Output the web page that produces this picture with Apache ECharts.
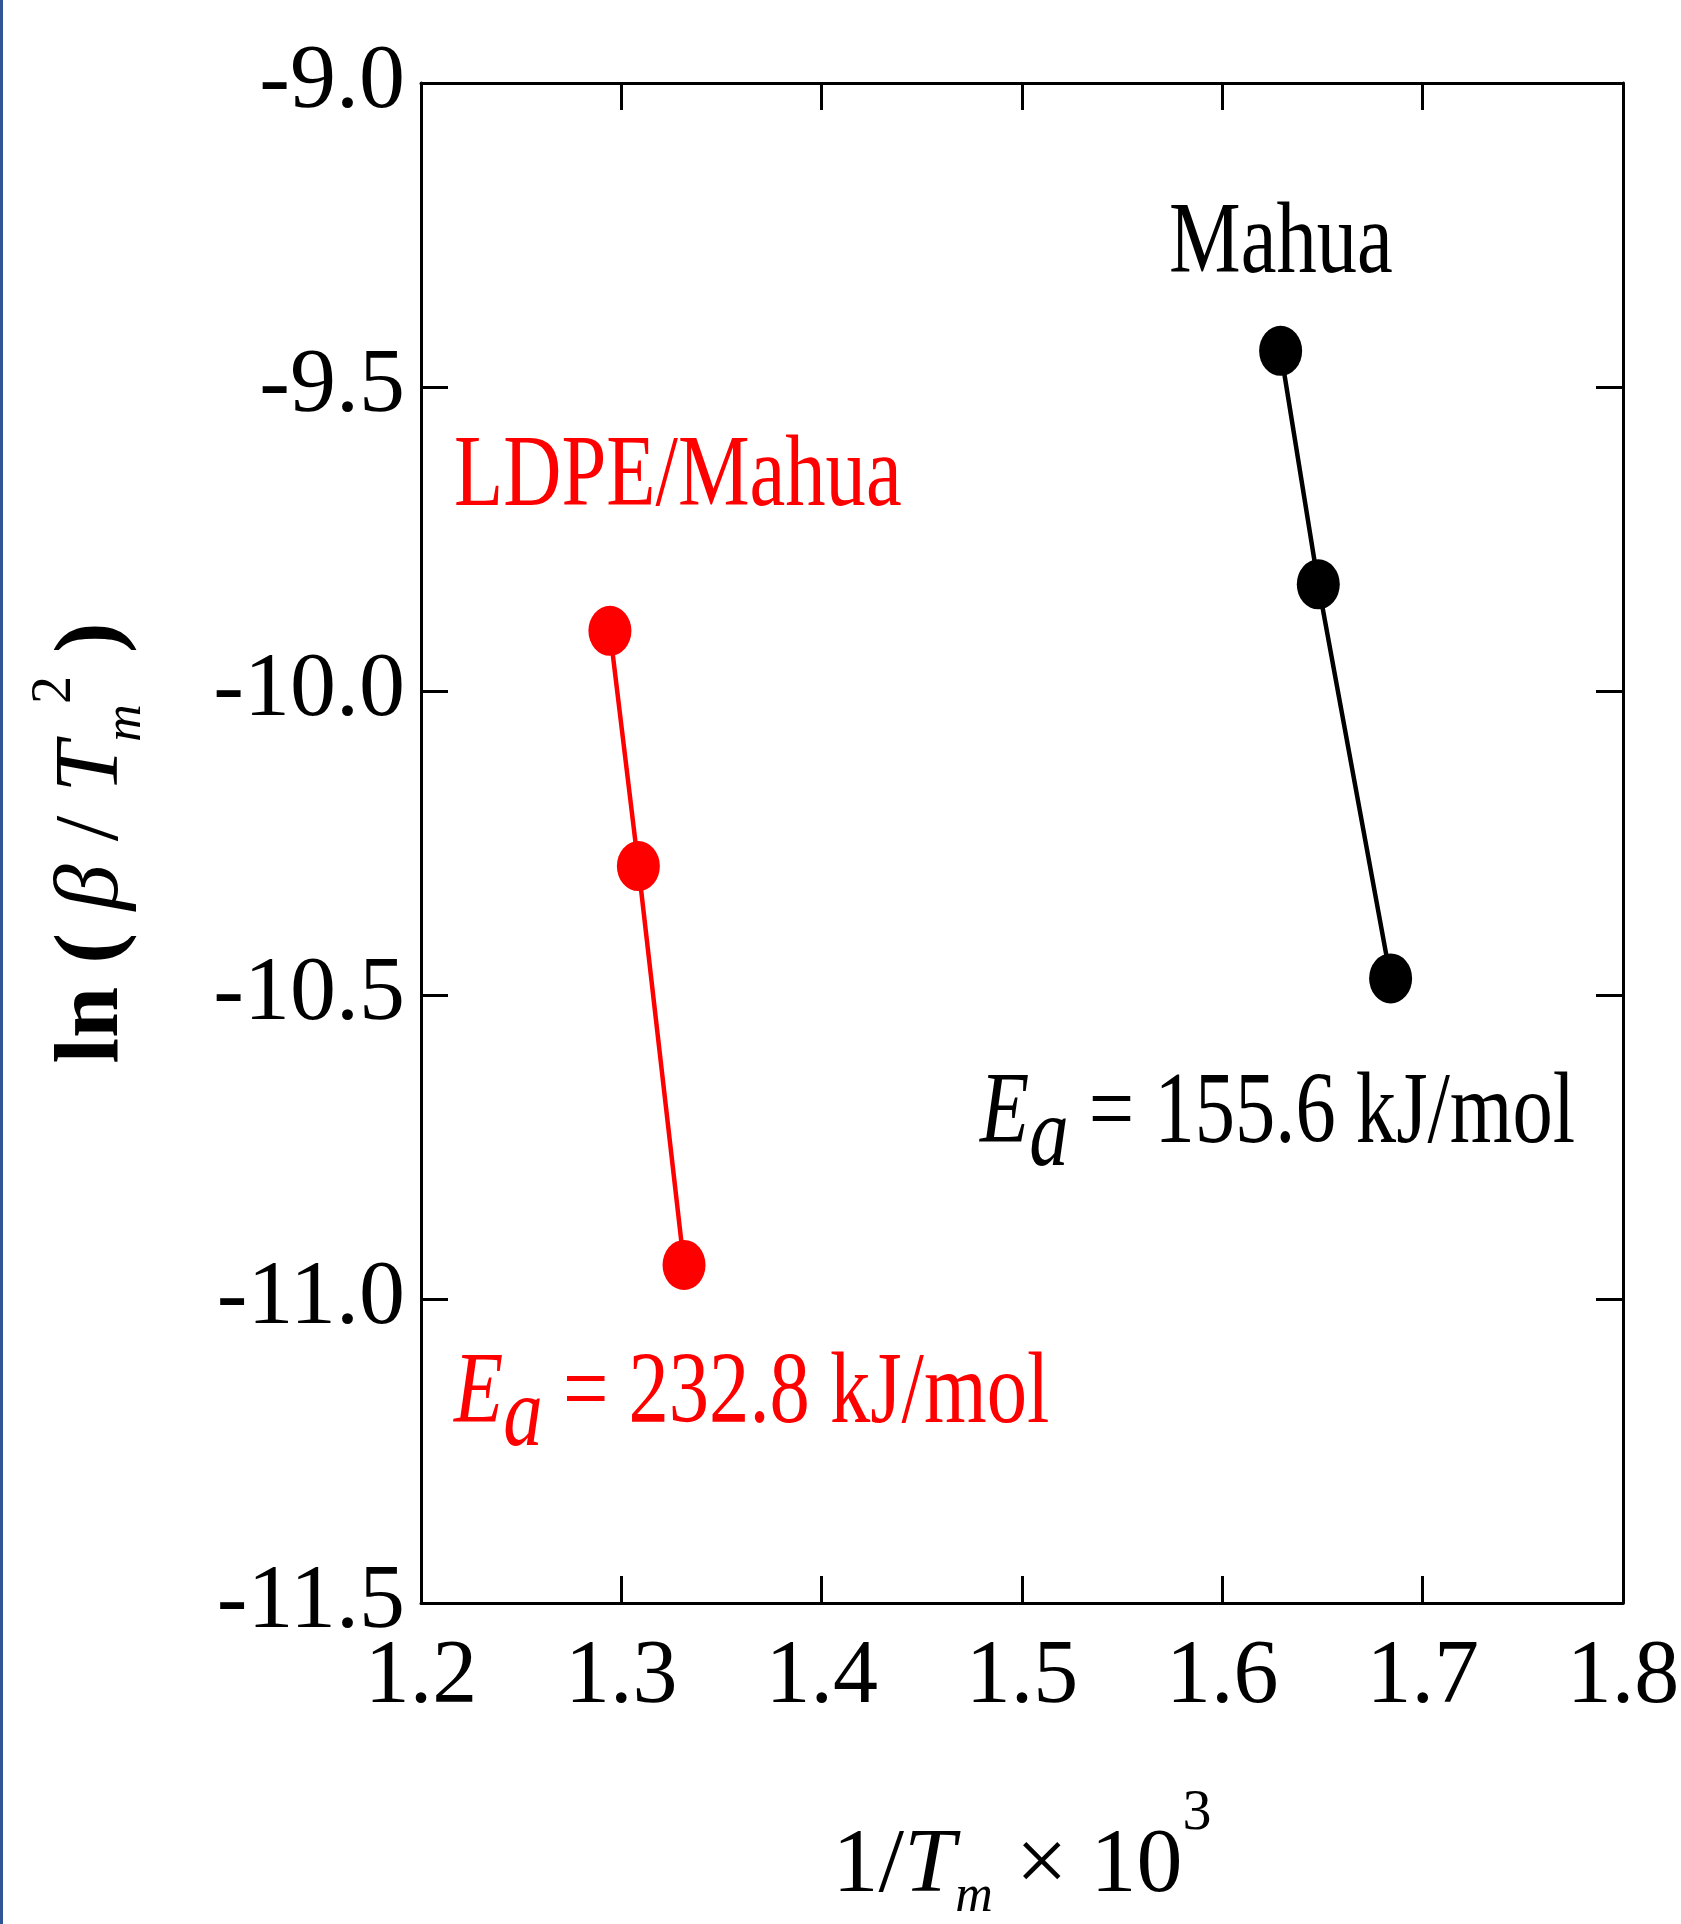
<!DOCTYPE html>
<html>
<head>
<meta charset="utf-8">
<script src="https://cdn.jsdelivr.net/npm/echarts@6/dist/echarts.min.js"></script>
<style>
html,body{margin:0;padding:0;background:#ffffff;}
#chart{width:1681px;height:1924px;}
</style>
</head>
<body>
<div id="chart"></div>
<script>
// ---- data ----
const xTickLabels = ['1.2','1.3','1.4','1.5','1.6','1.7','1.8'];
const yTickLabels = ['-11.5','-11.0','-10.5','-10.0','-9.5','-9.0'];
const seriesNames = ['LDPE/Mahua', 'Mahua'];
const ldpeX = [1.2943, 1.3085, 1.3313];
const ldpeY = [-9.901, -10.288, -10.944];
const mahuaX = [1.6291, 1.6479, 1.6840];
const mahuaY = [-9.4405, -9.8246, -10.4727];
const eaValues = ['232.8', '155.6'];

// ---- chart ----
const FONT = "'Liberation Serif', 'Times New Roman', serif";
const chart = echarts.init(document.getElementById('chart'), null, {renderer: 'canvas'});

const xMin = parseFloat(xTickLabels[0]), xMax = parseFloat(xTickLabels[xTickLabels.length-1]);
const yMin = parseFloat(yTickLabels[0]), yMax = parseFloat(yTickLabels[yTickLabels.length-1]);

function axisCommon() {
  return {
    type: 'value',
    axisLine: {show: true, onZero: false, lineStyle: {color: '#000', width: 3}},
    axisTick: {show: true, inside: true, length: 27, lineStyle: {color: '#000', width: 3}},
    splitLine: {show: false}
  };
}

const option = {
  animation: false,
  backgroundColor: '#ffffff',
  grid: {left: 421, right: 58, top: 83, bottom: 321, containLabel: false, outerBoundsMode: 'none'},
  xAxis: [
    Object.assign(axisCommon(), {
      position: 'bottom', min: xMin, max: xMax, interval: 0.1,
      axisLabel: {show: true, margin: 30, color: '#000', fontFamily: FONT, fontSize: 90,
        formatter: v => v.toFixed(1)},
      name: '{n|1/}{i|T}{sub|m}{n| \u00d7 10}{sup|3}',
      nameLocation: 'middle', nameGap: 182,
      nameTextStyle: {
        color: '#000', fontFamily: FONT, fontSize: 92,
        rich: {
          n: {fontFamily: FONT, fontSize: 92, color: '#000'},
          i: {fontFamily: FONT, fontSize: 92, fontStyle: 'italic', color: '#000'},
          sub: {fontFamily: FONT, fontSize: 52, fontStyle: 'italic', color: '#000', padding: [60, 0, 0, 0]},
          sup: {fontFamily: FONT, fontSize: 58, color: '#000', padding: [0, 0, 106, 0]}
        }
      }
    }),
    Object.assign(axisCommon(), {
      position: 'top', min: xMin, max: xMax, interval: 0.1,
      axisLabel: {show: false}
    })
  ],
  yAxis: [
    Object.assign(axisCommon(), {
      position: 'left', min: yMin, max: yMax, interval: 0.5,
      axisLabel: {show: true, margin: 16, color: '#000', fontFamily: FONT, fontSize: 92,
        formatter: v => v.toFixed(1)},
      name: '{b|ln ( }{i|\u03b2}{n| / }{i|T}{sub|m}{sup|2}{b| )}',
      nameLocation: 'middle', nameGap: 262, nameRotate: 90,
      nameTextStyle: {
        color: '#000', fontFamily: FONT, fontSize: 92,
        rich: {
          b: {fontFamily: FONT, fontSize: 92, fontWeight: 'bold', color: '#000'},
          n: {fontFamily: FONT, fontSize: 92, color: '#000'},
          i: {fontFamily: FONT, fontSize: 92, fontStyle: 'italic', color: '#000'},
          sub: {fontFamily: FONT, fontSize: 52, fontStyle: 'italic', color: '#000', padding: [66, 0, 0, 0]},
          sup: {fontFamily: FONT, fontSize: 56, color: '#000', padding: [0, 0, 76, 0]}
        }
      }
    }),
    Object.assign(axisCommon(), {
      position: 'right', min: yMin, max: yMax, interval: 0.5,
      axisLabel: {show: false}
    })
  ],
  series: [
    {
      name: seriesNames[0], type: 'line',
      data: ldpeX.map((x, i) => [x, ldpeY[i]]),
      symbol: 'circle', symbolSize: [43, 50], showSymbol: true,
      lineStyle: {color: '#ff0000', width: 4.5},
      itemStyle: {color: '#ff0000'}
    },
    {
      name: seriesNames[1], type: 'line',
      data: mahuaX.map((x, i) => [x, mahuaY[i]]),
      symbol: 'circle', symbolSize: [43, 50], showSymbol: true,
      lineStyle: {color: '#000000', width: 4.5},
      itemStyle: {color: '#000000'}
    }
  ]
};
chart.setOption(option);

// ---- annotations (anchored in data coordinates: left edge, text baseline) ----
const F = 102, SX = 0.79;
const annotations = [
  {text: seriesNames[1], color: '#000', at: [1.5734, -9.3076], rich: false},
  {text: seriesNames[0], color: '#ff0000', at: [1.2165, -9.6908], rich: false},
  {text: eaValues[1], color: '#000', at: [1.4790, -10.738], rich: true},
  {text: eaValues[0], color: '#ff0000', at: [1.2165, -11.199], rich: true}
];
const graphics = annotations.map(a => {
  const p = chart.convertToPixel({xAxisIndex: 0, yAxisIndex: 0}, a.at);
  const style = {
    fill: a.color, font: F + 'px ' + FONT, align: 'left', verticalAlign: 'middle'
  };
  if (a.rich) {
    style.text = '{i|E}{sub|a}{n| = ' + a.text + ' kJ/mol}';
    style.rich = {
      i: {fontFamily: FONT, fontSize: F, fontStyle: 'italic', fill: a.color},
      sub: {fontFamily: FONT, fontSize: 100, fontStyle: 'italic', fill: a.color, padding: [47, 0, 0, 0]},
      n: {fontFamily: FONT, fontSize: F, fill: a.color}
    };
  } else {
    style.text = a.text;
  }
  return {type: 'text', x: p[0], y: p[1] - 0.34 * F + 10, scaleX: SX, scaleY: 1, style: style, z: 100};
});
graphics.push({
  type: 'rect', left: 0, top: 0, shape: {x: 0, y: 0, width: 3, height: 1924},
  style: {fill: '#2f5597'}, z: 100
});
chart.setOption({graphic: graphics});
</script>
</body>
</html>
